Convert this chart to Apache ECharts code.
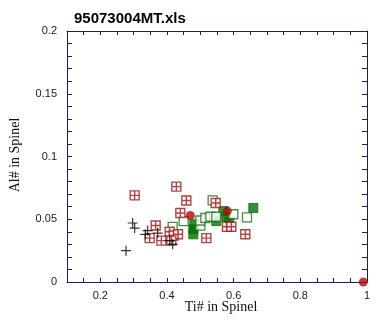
<!DOCTYPE html>
<html>
<head>
<meta charset="utf-8">
<script src="https://cdn.jsdelivr.net/npm/echarts@6/dist/echarts.min.js"></script>
<style>
  html, body { margin: 0; padding: 0; background: #fff; }
  #chart { width: 387px; height: 326px; }
</style>
</head>
<body>
<div id="chart"></div>
<script>
// Spinel composition: [Ti#, Al#] pairs per sample group
const crossPts = [[0.297,0.047],[0.303,0.043],[0.277,0.025],[0.335,0.038],[0.342,0.041],[0.372,0.039],[0.408,0.033],[0.417,0.030]];
const gridSqPts = [[0.303,0.069],[0.428,0.076],[0.458,0.065],[0.440,0.055],[0.366,0.045],[0.348,0.035],[0.383,0.033],[0.408,0.040],[0.420,0.037],[0.433,0.038],[0.413,0.033],[0.546,0.063],[0.580,0.044],[0.593,0.044],[0.518,0.035],[0.635,0.038]];
const greenFilledPts = [[0.482,0.046],[0.479,0.042],[0.479,0.038],[0.548,0.0485],[0.569,0.0565],[0.578,0.052],[0.587,0.048],[0.659,0.059]];
const greenOpenPts = [[0.417,0.044],[0.450,0.0485],[0.500,0.045],[0.500,0.049],[0.515,0.051],[0.530,0.052],[0.548,0.052],[0.537,0.065],[0.599,0.054],[0.640,0.0515]];
const redDotPts = [[0.470,0.053],[0.581,0.0565],[0.989,0]];

const titleText = '95073004MT.xls';
const xName = 'Ti# in Spinel';
const yName = 'Al# in Spinel';

const AXIS = '#1c1c78';
const near = (v, step) => Math.abs(v / step - Math.round(v / step)) < 1e-6;

const chart = echarts.init(document.getElementById('chart'), null, { renderer: 'canvas' });

const baseAxis = {
  axisLine: { show: true, onZero: false, lineStyle: { color: AXIS, width: 1 } },
  axisTick: { show: true, inside: true, length: 4, lineStyle: { color: AXIS, width: 1 } },
  splitLine: { show: false },
  axisLabel: { color: '#222', fontFamily: 'Arial, "Liberation Sans", sans-serif', fontSize: 11 }
};

chart.setOption({
  backgroundColor: '#fff',
  animation: false,
  title: {
    text: titleText, left: 69, top: 6,
    textStyle: { fontFamily: 'Arial, "Liberation Sans", sans-serif', fontWeight: 'bold', fontSize: 15, color: '#000' }
  },
  grid: { left: 67, right: 20, top: 31, bottom: 44, containLabel: false },
  xAxis: [
    Object.assign({}, baseAxis, {
      type: 'value', position: 'bottom', min: 0.1, max: 1, interval: 0.05,
      axisLabel: Object.assign({}, baseAxis.axisLabel, {
        margin: 8, showMinLabel: true,
        formatter: v => (near(v, 0.2) ? String(+v.toFixed(2)) : '')
      })
    }),
    Object.assign({}, baseAxis, {
      type: 'value', position: 'top', min: 0.1, max: 1, interval: 0.05,
      axisLabel: { show: false }
    })
  ],
  yAxis: [
    Object.assign({}, baseAxis, {
      type: 'value', position: 'left', min: 0, max: 0.2, interval: 0.01,
      axisTick: Object.assign({}, baseAxis.axisTick, { length: 5 }),
      axisLabel: Object.assign({}, baseAxis.axisLabel, {
        margin: 10,
        formatter: v => (near(v, 0.05) ? String(+v.toFixed(2)) : '')
      })
    }),
    Object.assign({}, baseAxis, {
      type: 'value', position: 'right', min: 0, max: 0.2, interval: 0.01,
      axisTick: Object.assign({}, baseAxis.axisTick, { length: 5 }),
      axisLabel: { show: false }
    })
  ],
  graphic: [
    {
      type: 'text', x: 221, y: 307,
      style: { text: xName, font: '14px "Times New Roman", "Liberation Serif", serif', fill: '#111', textAlign: 'center', textVerticalAlign: 'middle' }
    },
    {
      type: 'text', x: 15, y: 155, rotation: Math.PI / 2,
      style: { text: yName, font: '14px "Times New Roman", "Liberation Serif", serif', fill: '#111', textAlign: 'center', textVerticalAlign: 'middle' }
    }
  ],
  series: [
    {
      type: 'scatter', data: greenFilledPts, symbol: 'rect', symbolSize: 9, clip: false,
      itemStyle: { color: '#067006', borderColor: '#067006', borderWidth: 1 }
    },
    {
      type: 'scatter', data: greenOpenPts, symbol: 'rect', symbolSize: 9, clip: false,
      itemStyle: { color: '#fff', borderColor: '#137313', borderWidth: 1.3 }
    },
    {
      type: 'scatter', data: gridSqPts, clip: false,
      symbol: 'path://M0,0H10V10H0Z M5,0V10 M0,5H10', symbolSize: 9,
      itemStyle: { color: '#fff', borderColor: '#9c1618', borderWidth: 1.4 }
    },
    {
      type: 'scatter', data: crossPts, clip: false,
      symbol: 'path://M0,5H10M5,0V10', symbolSize: 10,
      itemStyle: { color: 'transparent', borderColor: '#000', borderWidth: 1.2 }
    },
    {
      type: 'scatter', data: redDotPts, symbol: 'circle', symbolSize: 9, clip: false,
      itemStyle: { color: '#b80606' }
    }
  ]
});
</script>
</body>
</html>
